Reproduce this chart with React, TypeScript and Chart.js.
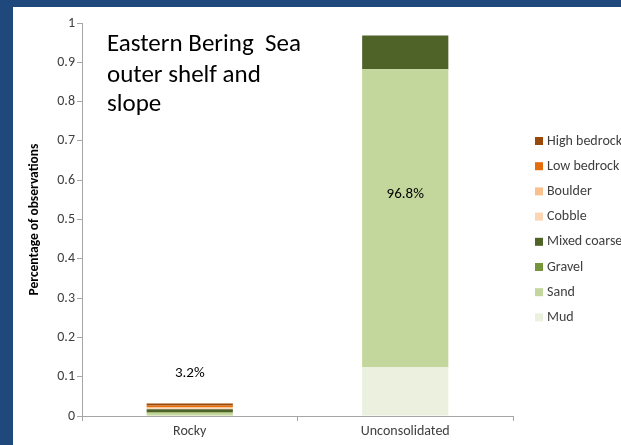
import React, { useEffect, useRef } from "react";
import { Chart, registerables } from "chart.js";

Chart.register(...registerables);

const categories = ["Rocky", "Unconsolidated"];
const seriesNames = ["Mud", "Sand", "Gravel", "Mixed coarse", "Cobble", "Boulder", "Low bedrock", "High bedrock"];
const mud = [0.001, 0.124];
const sand = [0.007, 0.758];
const gravel = [0.002, 0];
const mixedCoarse = [0.007, 0.086];
const cobble = [0.002, 0];
const boulder = [0.003, 0];
const lowBedrock = [0.005, 0];
const highBedrock = [0.005, 0];
const seriesColors = ["#EBF1DE", "#C3D69B", "#77933C", "#4F6228", "#FCD5B5", "#FAC090", "#E46C0A", "#984807"];
const totalLabels = ["3.2%", "96.8%"];
const yTickValues = [0, 0.1, 0.2, 0.3, 0.4, 0.5, 0.6, 0.7, 0.8, 0.9, 1];
const titleLines = ["Eastern Bering  Sea", "outer shelf and", "slope"];
const yAxisTitle = "Percentage of observations";

const FONT = "Carlito, Lato, 'Liberation Sans', sans-serif";
const TEXT = "#404040";

const overlayPlugin = {
  id: "overlay",
  afterDraw(chart: any) {
    const ctx = chart.ctx;
    const xs = chart.scales.x;
    const ys = chart.scales.y;
    const ca = chart.chartArea;
    ctx.save();
    // title
    ctx.fillStyle = "#000";
    ctx.font = `25px ${FONT}`;
    ctx.textAlign = "left";
    ctx.textBaseline = "alphabetic";
    const tb = [44, 75, 104];
    titleLines.forEach((t, i) => ctx.fillText(t, 94, tb[i]));
    // y axis title
    ctx.save();
    ctx.translate(22, (ca.top + ca.bottom) / 2);
    ctx.rotate(-Math.PI / 2);
    ctx.font = `bold 13.5px ${FONT}`;
    ctx.textAlign = "center";
    ctx.textBaseline = "middle";
    ctx.fillStyle = "#000";
    ctx.fillText(yAxisTitle, 0, 0);
    ctx.restore();
    // total labels
    const series = [mud, sand, gravel, mixedCoarse, cobble, boulder, lowBedrock, highBedrock];
    ctx.font = `15px ${FONT}`;
    ctx.textAlign = "center";
    ctx.textBaseline = "middle";
    ctx.fillStyle = "#000";
    categories.forEach((_, i) => {
      const total = series.reduce((s, arr) => s + arr[i], 0);
      const v = total > 0.5 ? total * 0.584 : total + 0.078;
      ctx.fillText(totalLabels[i], xs.getPixelForValue(i), ys.getPixelForValue(v));
    });
    // legend
    ctx.font = `14px ${FONT}`;
    ctx.textAlign = "left";
    ctx.textBaseline = "middle";
    for (let k = 0; k < seriesNames.length; k++) {
      const idx = seriesNames.length - 1 - k;
      const cy = 134 + k * 25.2;
      ctx.fillStyle = seriesColors[idx];
      ctx.fillRect(522, cy - 4, 8, 8);
      ctx.fillStyle = TEXT;
      ctx.fillText(seriesNames[idx], 534, cy);
    }
    ctx.restore();
  },
};

export default function App() {
  const ref = useRef<HTMLCanvasElement>(null);
  useEffect(() => {
    if (!ref.current) return;
    const series = [mud, sand, gravel, mixedCoarse, cobble, boulder, lowBedrock, highBedrock];
    const chart = new Chart(ref.current, {
      type: "bar",
      data: {
        labels: categories,
        datasets: series.map((d, i) => ({
          label: seriesNames[i],
          data: d,
          backgroundColor: seriesColors[i],
          borderWidth: 0,
          categoryPercentage: 1,
          barPercentage: 0.4,
        })),
      },
      options: {
        responsive: false,
        animation: false,
        layout: { padding: { left: 0, top: 16, right: 108, bottom: 0 } },
        plugins: { legend: { display: false }, tooltip: { enabled: false }, title: { display: false } },
        scales: {
          x: {
            stacked: true,
            grid: { display: true, drawOnChartArea: false, drawTicks: true, tickLength: 5, color: "#A6A6A6", offset: true },
            border: { color: "#A6A6A6" },
            ticks: { color: TEXT, font: { family: FONT, size: 14 }, padding: 2 },
            afterFit: (s: any) => { s.height = 29; },
          },
          y: {
            stacked: true,
            min: 0,
            max: 1,
            afterBuildTicks: (s: any) => { s.ticks = yTickValues.map((v) => ({ value: v })); },
            grid: { display: true, drawOnChartArea: false, drawTicks: true, tickLength: 5, color: "#A6A6A6" },
            border: { color: "#A6A6A6" },
            ticks: { color: TEXT, font: { family: FONT, size: 14 }, padding: 2, callback: (v: any) => String(Math.round(v * 10) / 10) },
            afterFit: (s: any) => { s.width = 69; },
          },
        },
      },
      plugins: [overlayPlugin],
    });
    return () => chart.destroy();
  }, []);
  return (
    <div style={{ position: "absolute", left: 0, top: 0, width: 621, height: 445, background: "#1F497D", overflow: "hidden" }}>
      <div style={{ position: "absolute", left: 13, top: 7, width: 608, height: 438, background: "#FFFFFF" }}>
        <canvas ref={ref} width={608} height={438} style={{ display: "block" }} />
      </div>
    </div>
  );
}
